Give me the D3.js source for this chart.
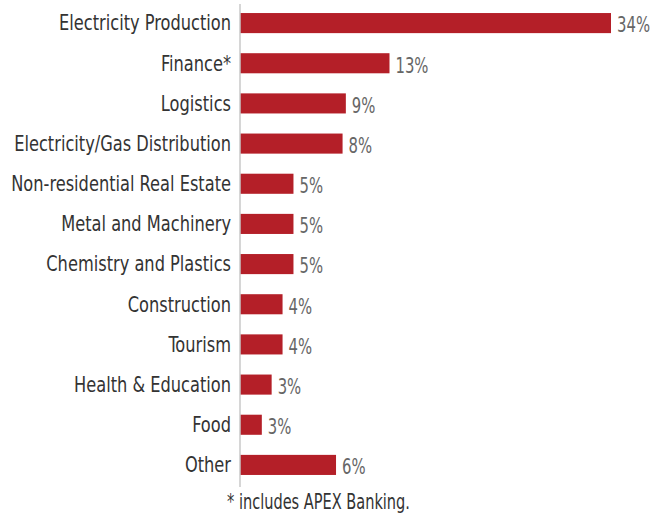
<!DOCTYPE html>
<html>
<head>
<meta charset="utf-8">
<script src="https://cdn.jsdelivr.net/npm/d3@7"></script>
<style>
  body { margin: 0; background: #fff; }
  text { font-family: "Liberation Sans Narrow", "DejaVu Sans Condensed", "DejaVu Sans", sans-serif; }
</style>
</head>
<body>
<div id="chart-container"></div>
<script>
// sectors, top to bottom
const sectors = ["Electricity Production", "Finance*", "Logistics", "Electricity/Gas Distribution",
  "Non-residential Real Estate", "Metal and Machinery", "Chemistry and Plastics", "Construction",
  "Tourism", "Health & Education", "Food", "Other"];
// bar lengths as drawn in the picture (percent)
const barValues = [34, 13.7, 9.7, 9.4, 4.9, 4.9, 4.9, 3.9, 3.9, 2.9, 2.0, 8.8];
// printed labels
const valueLabels = ["34%", "13%", "9%", "8%", "5%", "5%", "5%", "4%", "4%", "3%", "3%", "6%"];
const footnote = "* includes APEX Banking.";

const W = 672, H = 518;
const x0 = 240;

const svg = d3.select("#chart-container")
  .append("svg")
  .attr("width", W)
  .attr("height", H);

// the reference uses a condensed face; squeeze whatever font we get to match
const squeeze = (str, size, target) => {
  const probe = svg.append("text").attr("font-size", size).text(str);
  const s = target / probe.node().getComputedTextLength();
  probe.remove();
  return s;
};
const sxCat = squeeze("Electricity Production", 22, 172);
const sxVal = squeeze("34%", 21, 33);
const sxNote = squeeze(footnote, 21, 183);

const x = d3.scaleLinear()
  .domain([0, 34])
  .range([x0, 611]);

const y = d3.scaleBand()
  .domain(sectors)
  .range([3, 485])
  .paddingInner(0.5)
  .paddingOuter(0.25);

svg.selectAll("rect.bar")
  .data(sectors)
  .join("rect")
  .attr("class", "bar")
  .attr("x", x(0))
  .attr("y", d => y(d))
  .attr("width", (d, i) => x(barValues[i]) - x(0))
  .attr("height", y.bandwidth())
  .attr("fill", "#b41f28");

// axis line
svg.append("line")
  .attr("x1", x0).attr("x2", x0)
  .attr("y1", 4).attr("y2", 487)
  .attr("stroke", "#c8c8c8")
  .attr("stroke-width", 1.5);

svg.selectAll("text.cat")
  .data(sectors)
  .join("text")
  .attr("class", "cat")
  .attr("transform", d => `translate(${x0 - 9},${y(d) + y.bandwidth() / 2}) scale(${sxCat},1)`)
  .attr("dy", "0.33em")
  .attr("text-anchor", "end")
  .attr("font-size", 22)
  .attr("fill", "#333")
  .text(d => d);

svg.selectAll("text.val")
  .data(sectors)
  .join("text")
  .attr("class", "val")
  .attr("transform", (d, i) => `translate(${x(barValues[i]) + 6},${y(d) + y.bandwidth() / 2 + 2}) scale(${sxVal},1)`)
  .attr("dy", "0.35em")
  .attr("font-size", 21)
  .attr("fill", "#666")
  .text((d, i) => valueLabels[i]);

svg.append("text")
  .attr("transform", `translate(227,509) scale(${sxNote},1)`)
  .attr("font-size", 21)
  .attr("fill", "#333")
  .text(footnote);
</script>
</body>
</html>
